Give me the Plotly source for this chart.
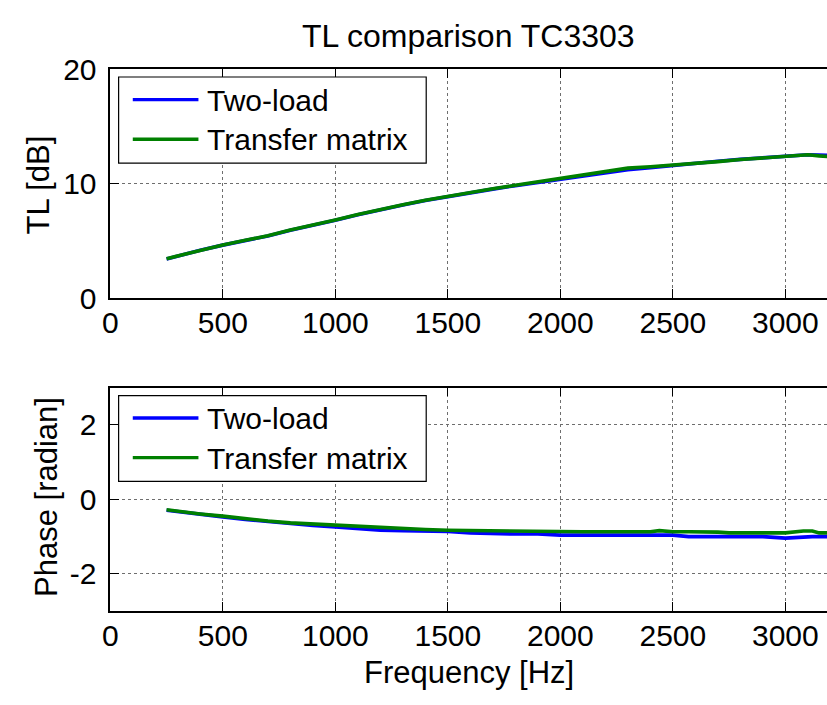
import plotly.graph_objects as go

# ---- transmission loss (dB) ----
tl_freq = [250, 300, 400, 500, 600, 700, 800, 900, 1000, 1100, 1200, 1300, 1400,
           1500, 1600, 1700, 1800, 1900, 2000, 2100, 2200, 2300, 2400, 2500, 2600,
           2700, 2800, 2900, 3000, 3100, 3150, 3200]
tl_two_load = [3.42, 3.68, 4.18, 4.63, 5.03, 5.43, 5.92, 6.33, 6.80, 7.28, 7.73,
               8.13, 8.53, 8.88, 9.18, 9.52, 9.82, 10.10, 10.38, 10.65, 10.95,
               11.22, 11.40, 11.60, 11.80, 11.96, 12.12, 12.24, 12.38, 12.52,
               12.50, 12.46]
tl_transfer = [3.45, 3.70, 4.20, 4.65, 5.05, 5.45, 5.95, 6.35, 6.82, 7.30, 7.75,
               8.15, 8.55, 8.90, 9.20, 9.55, 9.85, 10.15, 10.45, 10.75, 11.10,
               11.35, 11.48, 11.60, 11.74, 11.92, 12.10, 12.26, 12.43, 12.52,
               12.42, 12.35]

# ---- phase (radian) ----
ph_freq = [250, 300, 400, 500, 600, 700, 800, 900, 1000, 1100, 1200, 1300, 1400,
           1500, 1600, 1700, 1800, 1900, 2000, 2100, 2200, 2300, 2400, 2440, 2480,
           2500, 2570, 2600, 2700, 2750, 2800, 2900, 3000, 3080, 3120, 3150, 3200]
ph_two_load = [-0.29, -0.33, -0.40, -0.47, -0.54, -0.60, -0.65, -0.70, -0.74,
               -0.78, -0.83, -0.84, -0.85, -0.86, -0.90, -0.92, -0.93, -0.93,
               -0.96, -0.96, -0.96, -0.96, -0.96, -0.96, -0.96, -0.96, -1.00,
               -1.00, -1.00, -1.00, -1.00, -1.00, -1.04, -1.00, -1.00, -1.00, -1.00]
ph_transfer = [-0.28, -0.32, -0.39, -0.45, -0.52, -0.58, -0.63, -0.66, -0.69,
               -0.73, -0.77, -0.79, -0.81, -0.83, -0.84, -0.84, -0.86, -0.87,
               -0.87, -0.87, -0.87, -0.87, -0.87, -0.84, -0.87, -0.87, -0.87,
               -0.87, -0.88, -0.90, -0.90, -0.90, -0.90, -0.85, -0.85, -0.90, -0.90]

x_ticks = [0, 500, 1000, 1500, 2000, 2500, 3000]
tl_ticks = [0, 10, 20]
ph_ticks = [-2, 0, 2]
series_names = ["Two-load", "Transfer matrix"]
series_colors = ["#0000ff", "#008000"]

W, H = 827, 705
FONT = "Liberation Sans, Arial, Helvetica, sans-serif"


def px(x):
    return x / W


def py(y):
    return 1 - y / H


fig = go.Figure()
for ys, name, col in zip([tl_two_load, tl_transfer], series_names, series_colors):
    fig.add_trace(go.Scatter(x=tl_freq, y=ys, name=name, mode="lines",
                             line=dict(color=col, width=3.6),
                             xaxis="x", yaxis="y", showlegend=False))
for ys, name, col in zip([ph_two_load, ph_transfer], series_names, series_colors):
    fig.add_trace(go.Scatter(x=ph_freq, y=ys, name=name, mode="lines",
                             line=dict(color=col, width=3.6),
                             xaxis="x2", yaxis="y2", showlegend=False))

x_common = dict(range=[0, 3185], tickvals=x_ticks, ticks="inside", ticklen=9,
                tickcolor="black", showline=True, linecolor="black", linewidth=1.5,
                mirror="ticks", showgrid=True, gridcolor="#6e6e6e", griddash="dot",
                gridwidth=1, zeroline=False, domain=[px(103.3), 1],
                tickfont=dict(family=FONT, size=30, color="black"),
                ticklabelstandoff=-3)
y_common = dict(ticks="inside", ticklen=9, tickcolor="black", showline=True,
                linecolor="black", linewidth=1.5, mirror=False, showgrid=True,
                gridcolor="#6e6e6e", griddash="dot", gridwidth=1, zeroline=False,
                tickfont=dict(family=FONT, size=30, color="black"),
                ticklabelstandoff=6)

fig.update_layout(
    width=W, height=H,
    margin=dict(l=0, r=0, t=0, b=0),
    paper_bgcolor="white", plot_bgcolor="white",
    showlegend=False,
    xaxis=dict(**x_common, anchor="y"),
    yaxis=dict(**y_common, range=[0, 20], tickvals=tl_ticks,
               domain=[py(296), py(55.7)], anchor="x"),
    xaxis2=dict(**x_common, anchor="y2"),
    yaxis2=dict(**y_common, range=[-3, 3], tickvals=ph_ticks,
                ticktext=["-2", "0", "2"],
                domain=[py(624.3), py(390)], anchor="x2"),
)

annotations = [
    dict(text="TL comparison TC3303", x=px(465), y=py(21), font=dict(size=32)),
    dict(text="Frequency [Hz]", x=px(466), y=py(689), font=dict(size=31)),
    dict(text="TL [dB]", x=px(31), y=py(177), textangle=-90, font=dict(size=31)),
    dict(text="Phase [radian]", x=px(39), y=py(505), textangle=-90, font=dict(size=31)),
]

shapes = []
# legend boxes for both panels
for top, bottom, row1, row2 in [(64, 154.3, 87.7, 129.3), (398.3, 488.3, 421.7, 463.3)]:
    shapes.append(dict(type="rect", xref="paper", yref="paper",
                       x0=px(111.7), x1=px(422.3), y0=py(bottom), y1=py(top),
                       line=dict(color="black", width=1.2), fillcolor="white",
                       layer="above"))
    for row, name, col in zip([row1, row2], series_names, series_colors):
        shapes.append(dict(type="line", xref="paper", yref="paper",
                           x0=px(126), x1=px(192.3), y0=py(row), y1=py(row),
                           line=dict(color=col, width=3.4), layer="above"))
        annotations.append(dict(text=name, x=px(199), y=py(row + 0.5),
                                xanchor="left", font=dict(size=30)))

for a in annotations:
    a.setdefault("xanchor", "center")
    a.setdefault("yanchor", "middle")
    a.update(xref="paper", yref="paper", showarrow=False)
    a["font"] = dict(family=FONT, color="black", **a["font"])

fig.update_layout(annotations=annotations, shapes=shapes)

# page without body margin so the figure fills the window exactly
fig.write_html("out.html",
               post_script="document.body.style.margin='0';"
                           "document.body.style.overflow='hidden';")
